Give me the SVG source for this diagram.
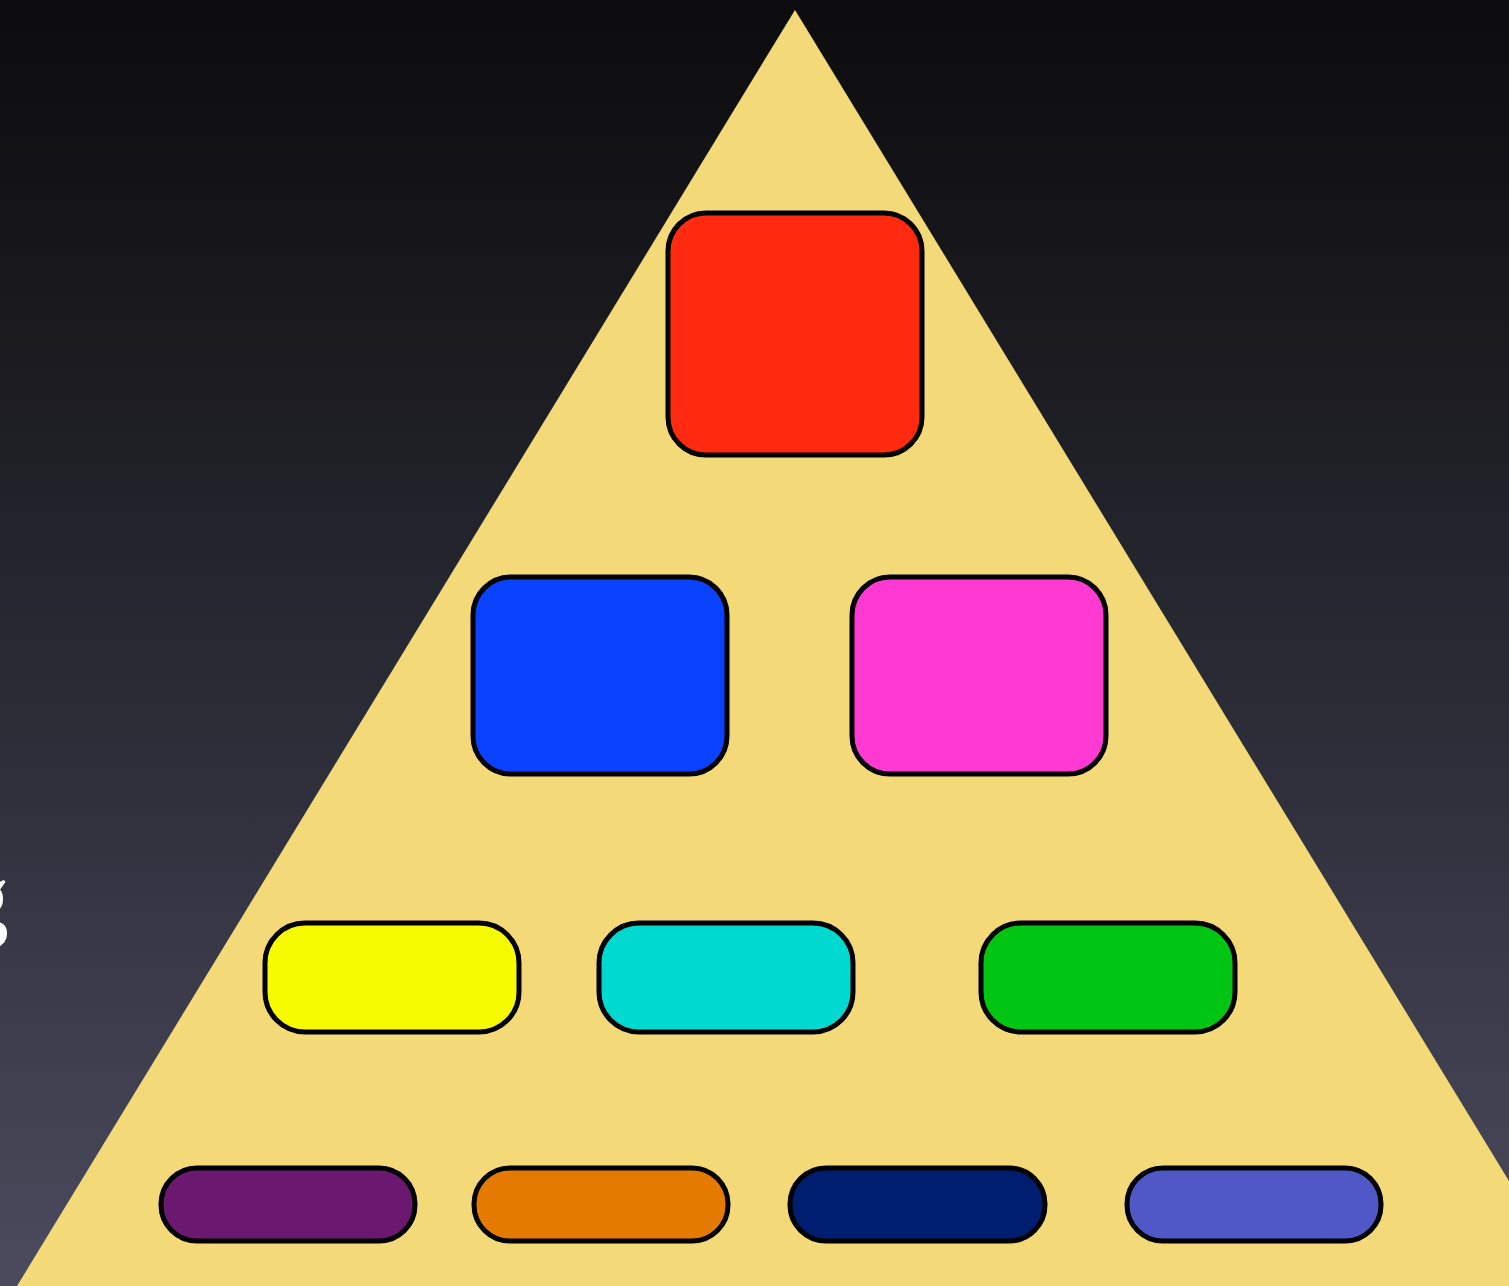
<svg xmlns="http://www.w3.org/2000/svg" width="1509" height="1286" viewBox="0 0 1509 1286">
<defs>
<linearGradient id="bg" x1="0" y1="0" x2="0" y2="1">
<stop offset="0" stop-color="#0c0c0e"/>
<stop offset="0.3" stop-color="#1c1c22"/>
<stop offset="0.65" stop-color="#32323f"/>
<stop offset="1" stop-color="#4c4b5e"/>
</linearGradient>
<style>
.box{stroke:#000;stroke-width:5}
</style>
</defs>
<rect width="1509" height="1286" fill="url(#bg)"/>
<text x="-40" y="930" font-family="'Liberation Serif', serif" font-size="96" font-weight="bold" fill="#ffffff">g</text>
<polygon id="pyramid" points="795,10 17,1286 1573,1286" fill="#f4d978"/>
<g id="connectors"></g>
<g id="red"><rect class="box" x="668" y="213" width="254" height="242" rx="38" fill="#ff2a10"/></g>
<g id="blue"><rect class="box" x="473" y="577" width="254" height="197" rx="38" fill="#0a43ff"/></g>
<g id="magenta"><rect class="box" x="852" y="577" width="254" height="197" rx="38" fill="#ff3ad2"/></g>
<g id="yellow"><rect class="box" x="265" y="923" width="254" height="109" rx="40" fill="#f7fb00"/></g>
<g id="cyan"><rect class="box" x="599" y="923" width="254" height="109" rx="40" fill="#00d9d0"/></g>
<g id="green"><rect class="box" x="981" y="923" width="254" height="109" rx="40" fill="#00c613"/></g>
<g id="purple"><rect class="box" x="161" y="1168" width="254" height="73" rx="36" fill="#6a1870"/></g>
<g id="orange"><rect class="box" x="474" y="1168" width="254" height="73" rx="36" fill="#e57a00"/></g>
<g id="navy"><rect class="box" x="790" y="1168" width="255" height="73" rx="36" fill="#001e70"/></g>
<g id="periwinkle"><rect class="box" x="1127" y="1168" width="254" height="73" rx="36" fill="#5058c8"/></g>
</svg>
